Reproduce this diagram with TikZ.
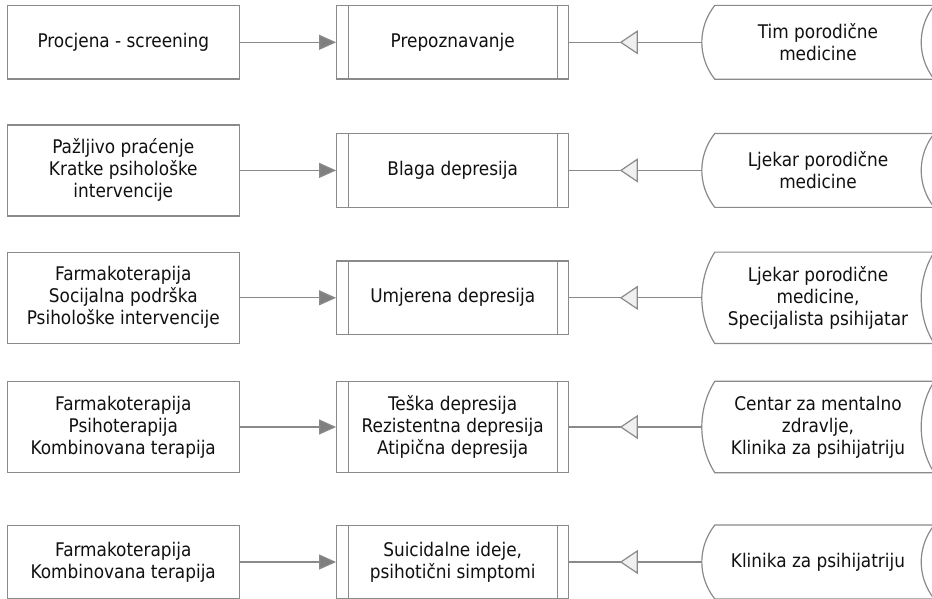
\documentclass[tikz,border=0pt]{standalone}
\usepackage{fontspec}
\setmainfont{DejaVu Sans Condensed}
\usetikzlibrary{arrows.meta,calc,decorations.markings}
\definecolor{linegray}{HTML}{8A8A8A}
\definecolor{tipgray}{HTML}{7F7F7F}
\definecolor{opentip}{HTML}{F0F0F0}
\definecolor{textcol}{HTML}{111111}
\newcommand\sdshape[2]{%
  \draw[boxline] ($(#1.north west)+(13,0)$) -- (#1.north east)
   .. controls ($(#1.north east)+(-17.33,0.6*#2)$) and ($(#1.south east)+(-17.33,-0.6*#2)$) .. (#1.south east)
   -- ($(#1.south west)+(13,0)$)
   .. controls ($(#1.south west)+(-4.33,-0.6*#2)$) and ($(#1.north west)+(-4.33,0.6*#2)$) .. ($(#1.north west)+(13,0)$) -- cycle;}
\tikzset{
  boxline/.style={draw=linegray, line width=1.2pt},
  txt/.style={font=\fontsize{18.8}{22}\selectfont, text=textcol, align=center, inner sep=0pt},
  plainbox/.style={txt, boxline, rectangle, minimum width=232pt, minimum height=73.5pt, fill=white},
  tallbox/.style={minimum height=91pt},
  procbox/.style={plainbox, path picture={
     \draw[boxline] ([xshift=11.6pt]path picture bounding box.north west) -- ([xshift=11.6pt]path picture bounding box.south west)
                    ([xshift=-11.6pt]path picture bounding box.north east) -- ([xshift=-11.6pt]path picture bounding box.south east);}},
  storebox/.style={txt, rectangle, minimum width=232pt, minimum height=73.5pt},
  fwd/.style={boxline, -{Triangle[length=17pt,width=15pt,fill=tipgray]}},
  back/.style={boxline, postaction={decorate},
     decoration={markings, mark=at position 82pt with {\arrow{Triangle[length=18pt,width=24pt,fill=opentip]}}}}
}
\begin{document}
\begin{tikzpicture}[x=1pt,y=-1pt]
\fill[white] (0,0) rectangle (932,598);
\clip (0,0) rectangle (932,598);
% row 1
\node[plainbox] (l1) at (123.3,42.3) {Procjena - screening};
\node[procbox] (m1) at (452.7,42.3) {Prepoznavanje};
\node[storebox] (r1) at (818,42.3) {Tim porodične\\medicine};
\sdshape{r1}{36.75}
% row 2
\node[plainbox,tallbox] (l2) at (123.3,170.4) {Pažljivo praćenje\\Kratke psihološke\\intervencije};
\node[procbox] (m2) at (452.7,170.4) {Blaga depresija};
\node[storebox] (r2) at (818,170.4) {Ljekar porodične\\medicine};
\sdshape{r2}{36.75}
% row 3
\node[plainbox,tallbox] (l3) at (123.3,297.8) {Farmakoterapija\\Socijalna podrška\\Psihološke intervencije};
\node[procbox] (m3) at (452.7,297.8) {Umjerena depresija};
\node[storebox,tallbox] (r3) at (818,297.8) {Ljekar porodične\\medicine,\\Specijalista psihijatar};
\sdshape{r3}{45.5}
% row 4
\node[plainbox,tallbox] (l4) at (123.3,427) {Farmakoterapija\\Psihoterapija\\Kombinovana terapija};
\node[procbox,tallbox] (m4) at (452.7,427) {Teška depresija\\Rezistentna depresija\\Atipična depresija};
\node[storebox,tallbox] (r4) at (818,427) {Centar za mentalno\\zdravlje,\\Klinika za psihijatriju};
\sdshape{r4}{45.5}
% row 5
\node[plainbox] (l5) at (123.3,562) {Farmakoterapija\\Kombinovana terapija};
\node[procbox] (m5) at (452.7,562) {Suicidalne ideje,\\psihotični simptomi};
\node[storebox] (r5) at (818,562) {Klinika za psihijatriju};
\sdshape{r5}{36.75}
% connectors
\foreach \i in {1,...,5}{
  \draw[fwd] (l\i.east) -- (m\i.west);
  \draw[back] (r\i.west) -- (m\i.east);
}
\end{tikzpicture}
\end{document}
